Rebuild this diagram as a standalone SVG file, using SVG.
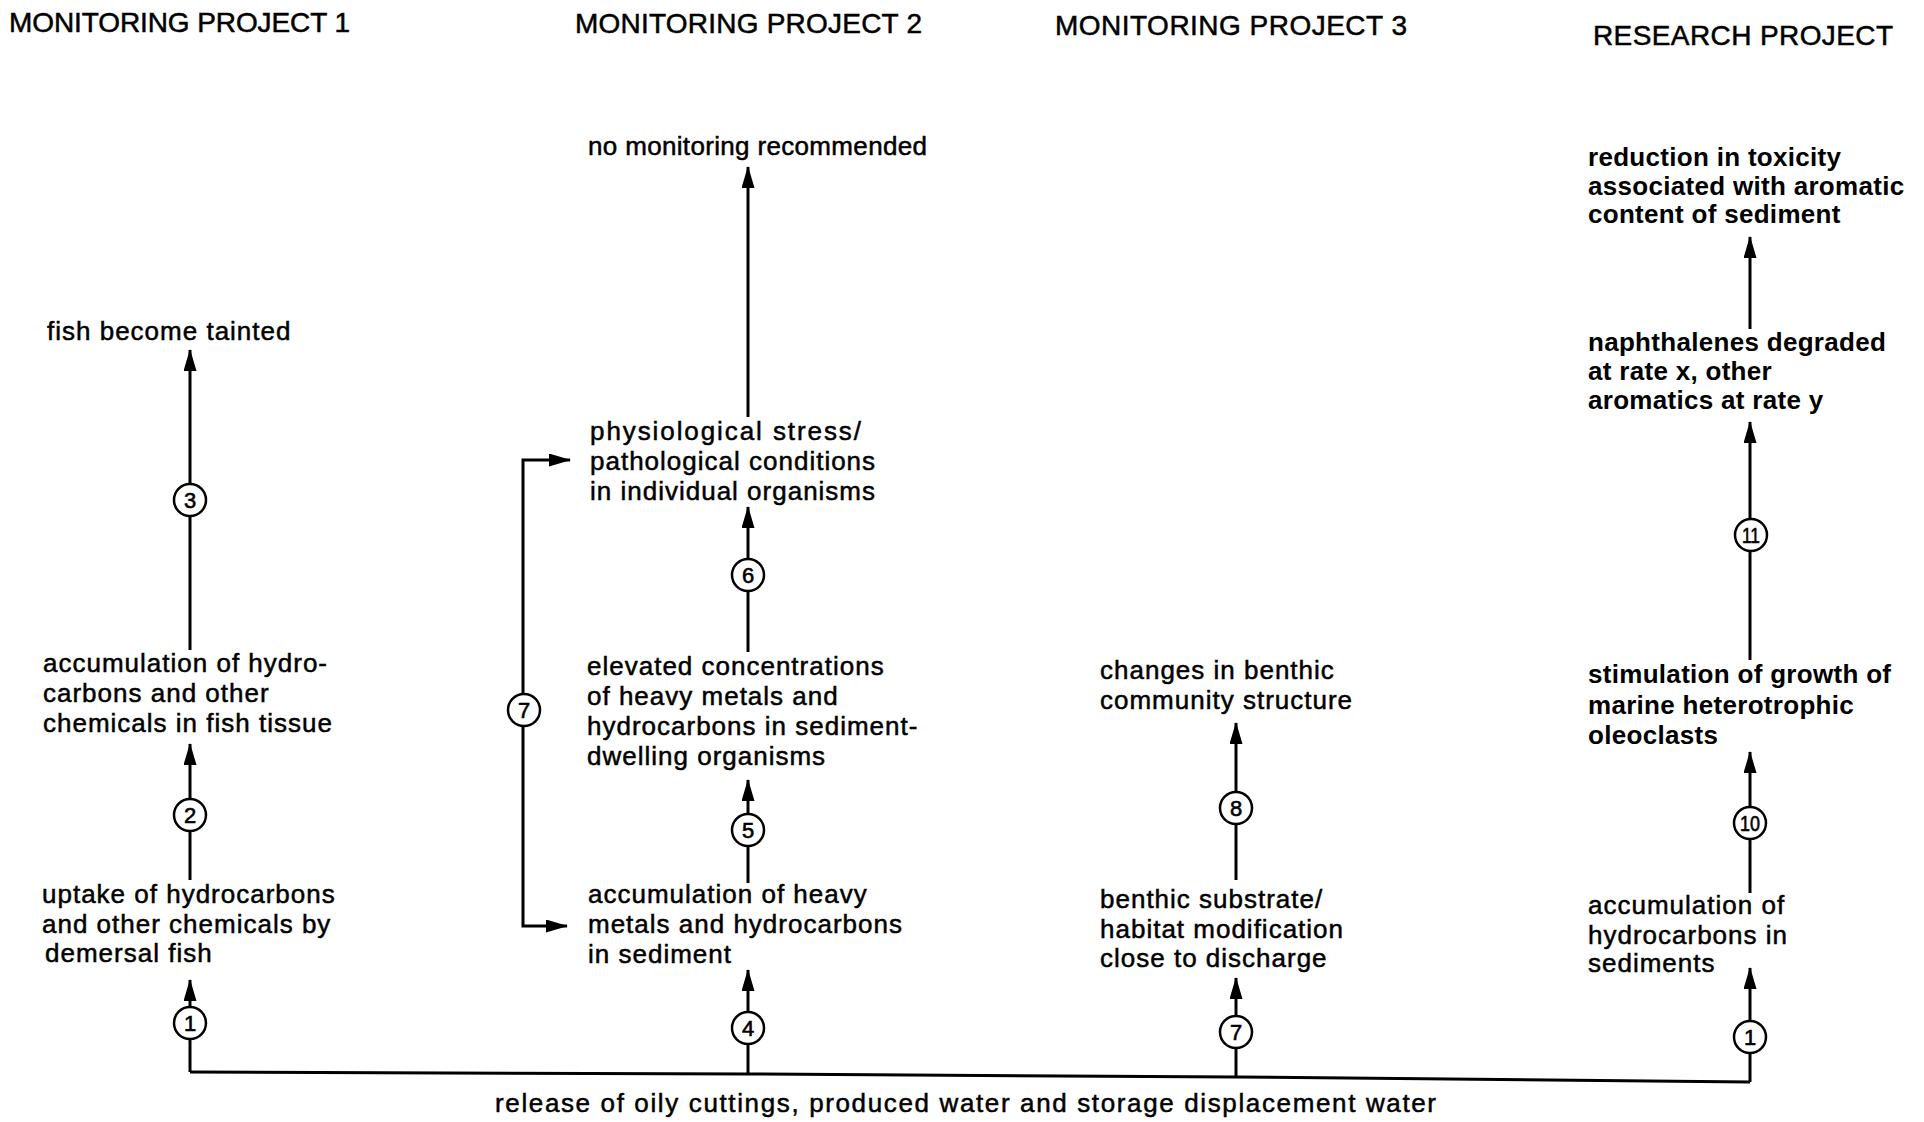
<svg xmlns="http://www.w3.org/2000/svg" width="1924" height="1122" viewBox="0 0 1924 1122">
<defs>
<style>
.t{font-family:"Liberation Sans",Arial,sans-serif;font-size:26px;letter-spacing:1px;fill:#000;stroke:#000;stroke-width:0.5px}
.b{font-weight:bold;letter-spacing:0.3px;stroke:none}
.h{font-size:28px;letter-spacing:0}
.ln{stroke:#000;stroke-width:3;fill:none}
.ar{stroke:#000;stroke-width:3;fill:none;marker-end:url(#ah)}
.cc{fill:#fff;stroke:#000;stroke-width:2.5}
.n{font-family:"Liberation Sans",Arial,sans-serif;font-size:22px;text-anchor:middle;fill:#000;stroke:#000;stroke-width:0.6px}
</style>
<marker id="ah" markerWidth="22" markerHeight="13" refX="21" refY="6.5" orient="auto" markerUnits="userSpaceOnUse"><path d="M0,0 L22,6.5 L0,13 Z" fill="#000"/></marker>
</defs>
<rect width="1924" height="1122" fill="#fff"/>

<g id="titles">
<text class="t h" x="9" y="32" textLength="341" lengthAdjust="spacing">MONITORING PROJECT 1</text>
<text class="t h" x="575" y="33" textLength="347" lengthAdjust="spacing">MONITORING PROJECT 2</text>
<text class="t h" x="1055" y="35" textLength="352" lengthAdjust="spacing">MONITORING PROJECT 3</text>
<text class="t h" x="1593" y="45" textLength="300" lengthAdjust="spacing">RESEARCH PROJECT</text>
</g>

<g id="connectors">
<polyline class="ln" points="190,1072 748,1074 1236,1077 1750,1082"/>
<!-- column 1 -->
<line class="ar" x1="190" y1="1072" x2="190" y2="980"/>
<line class="ar" x1="190" y1="880" x2="190" y2="744"/>
<line class="ar" x1="190" y1="650" x2="190" y2="350"/>
<!-- column 2 -->
<line class="ar" x1="748" y1="1074" x2="748" y2="970"/>
<line class="ar" x1="748" y1="883" x2="748" y2="780"/>
<line class="ar" x1="748" y1="652" x2="748" y2="507"/>
<line class="ar" x1="748" y1="417" x2="748" y2="167"/>
<path class="ar" d="M523,710 L523,460 L570,460"/>
<path class="ar" d="M523,710 L523,926 L567,926"/>
<!-- column 3 -->
<line class="ar" x1="1236" y1="1077" x2="1236" y2="978"/>
<line class="ar" x1="1236" y1="880" x2="1236" y2="723"/>
<!-- column 4 -->
<line class="ar" x1="1750" y1="1082" x2="1750" y2="968"/>
<line class="ar" x1="1750" y1="893" x2="1750" y2="752"/>
<line class="ar" x1="1750" y1="660" x2="1750" y2="422"/>
<line class="ar" x1="1750" y1="329" x2="1750" y2="237"/>
<!-- numbered markers -->
<g id="m1a"><circle class="cc" cx="190" cy="1023" r="16"/><text class="n" x="190" y="1031">1</text></g>
<g id="m2"><circle class="cc" cx="190" cy="815" r="16"/><text class="n" x="190" y="823">2</text></g>
<g id="m3"><circle class="cc" cx="190" cy="500" r="16"/><text class="n" x="190" y="508">3</text></g>
<g id="m4"><circle class="cc" cx="748" cy="1028" r="16"/><text class="n" x="748" y="1036">4</text></g>
<g id="m5"><circle class="cc" cx="748" cy="830" r="16"/><text class="n" x="748" y="838">5</text></g>
<g id="m6"><circle class="cc" cx="748" cy="575" r="16"/><text class="n" x="748" y="583">6</text></g>
<g id="m7a"><circle class="cc" cx="524" cy="710" r="16"/><text class="n" x="524" y="718">7</text></g>
<g id="m7b"><circle class="cc" cx="1236" cy="1032" r="16"/><text class="n" x="1236" y="1040">7</text></g>
<g id="m8"><circle class="cc" cx="1236" cy="808" r="16"/><text class="n" x="1236" y="816">8</text></g>
<g id="m1b"><circle class="cc" cx="1750" cy="1037" r="16"/><text class="n" x="1750" y="1045">1</text></g>
<g id="m10"><circle class="cc" cx="1750" cy="823" r="16"/><text class="n" x="1750" y="831" textLength="20" lengthAdjust="spacingAndGlyphs">10</text></g>
<g id="m11"><circle class="cc" cx="1751" cy="535" r="16"/><text class="n" x="1751" y="543" textLength="18" lengthAdjust="spacingAndGlyphs">11</text></g>
</g>

<g id="source">
<text class="t" x="495" y="1112" textLength="942" lengthAdjust="spacing">release of oily cuttings, produced water and storage displacement water</text>
</g>

<g id="fish-uptake">
<text class="t" x="42" y="903">uptake of hydrocarbons</text>
<text class="t" x="42" y="933">and other chemicals by</text>
<text class="t" x="45" y="962">demersal fish</text>
</g>
<g id="fish-accumulation">
<text class="t" x="43" y="672">accumulation of hydro-</text>
<text class="t" x="43" y="702">carbons and other</text>
<text class="t" x="43" y="732">chemicals in fish tissue</text>
</g>
<g id="fish-tainted">
<text class="t" x="47" y="340">fish become tainted</text>
</g>

<g id="sediment-accumulation">
<text class="t" x="588" y="903">accumulation of heavy</text>
<text class="t" x="588" y="933">metals and hydrocarbons</text>
<text class="t" x="588" y="963">in sediment</text>
</g>
<g id="elevated-concentrations">
<text class="t" x="587" y="675">elevated concentrations</text>
<text class="t" x="587" y="705">of heavy metals and</text>
<text class="t" x="587" y="735">hydrocarbons in sediment-</text>
<text class="t" x="587" y="765">dwelling organisms</text>
</g>
<g id="physiological-stress">
<text class="t" x="590" y="440" textLength="272" lengthAdjust="spacing">physiological stress/</text>
<text class="t" x="590" y="470">pathological conditions</text>
<text class="t" x="590" y="500">in individual organisms</text>
</g>
<g id="no-monitoring">
<text class="t" x="588" y="155" textLength="340" lengthAdjust="spacing">no monitoring recommended</text>
</g>

<g id="habitat-modification">
<text class="t" x="1100" y="908">benthic substrate/</text>
<text class="t" x="1100" y="938">habitat modification</text>
<text class="t" x="1100" y="967">close to discharge</text>
</g>
<g id="benthic-changes">
<text class="t" x="1100" y="679">changes in benthic</text>
<text class="t" x="1100" y="709">community structure</text>
</g>

<g id="hydrocarbons-sediments">
<text class="t" x="1588" y="914">accumulation of</text>
<text class="t" x="1588" y="944">hydrocarbons in</text>
<text class="t" x="1588" y="972">sediments</text>
</g>
<g id="oleoclasts">
<text class="t b" x="1588" y="683">stimulation of growth of</text>
<text class="t b" x="1588" y="714">marine heterotrophic</text>
<text class="t b" x="1588" y="744">oleoclasts</text>
</g>
<g id="naphthalenes">
<text class="t b" x="1588" y="351">naphthalenes degraded</text>
<text class="t b" x="1588" y="380">at rate x, other</text>
<text class="t b" x="1588" y="409">aromatics at rate y</text>
</g>
<g id="toxicity">
<text class="t b" x="1588" y="166">reduction in toxicity</text>
<text class="t b" x="1588" y="195">associated with aromatic</text>
<text class="t b" x="1588" y="223">content of sediment</text>
</g>
</svg>
